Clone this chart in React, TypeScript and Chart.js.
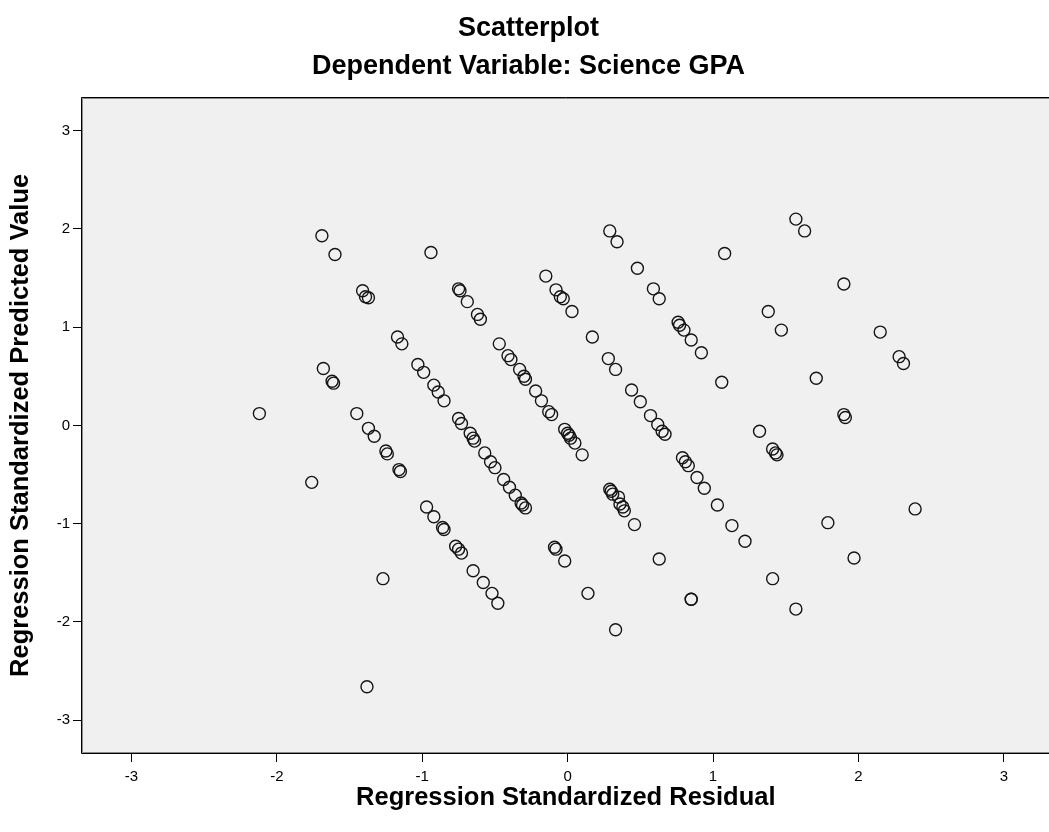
import React, { useEffect, useRef } from "react";
import { Chart, registerables } from "chart.js";

Chart.register(...registerables);

const TITLE = "Scatterplot";
const SUBTITLE = "Dependent Variable: Science GPA";
const X_LABEL = "Regression Standardized Residual";
const Y_LABEL = "Regression Standardized Predicted Value";
const X_TICKS = [-3, -2, -1, 0, 1, 2, 3];
const Y_TICKS = [-3, -2, -1, 0, 1, 2, 3];

// Regression standardized residuals (x)
const RESIDUALS = [
  -1.69, -1.6, -0.94, -1.41, -1.39, -1.37, -0.75, -0.74, -0.69, -0.62,
  -0.6, -1.17, -1.14, -1.03, -0.99, -0.92, -0.89, -0.85, -1.68, -1.62,
  -1.61, -2.12, -1.45, -1.37, -1.33, -1.25, -1.24, -1.16, -1.15, -1.76,
  -0.97, -0.92, -0.86, -0.85, -0.77, -0.75, -0.73, -0.65, -1.27, -0.58,
  -0.52, -0.48, -1.38, -0.75, -0.73, -0.67, -0.65, -0.64, -0.57, -0.53,
  -0.5, -0.44, -0.4, -0.36, -0.32, -0.31, -0.29, -0.47, -0.41, -0.39,
  -0.33, -0.3, -0.29, -0.22, -0.18, -0.13, -0.11, -0.02, 0.0, 0.01,
  0.02, 0.05, 0.1, -0.15, -0.08, -0.05, -0.03, 0.03, 0.17, 0.28,
  0.33, 0.44, 0.5, 0.57, 0.62, 0.65, 0.67, 0.79, 0.81, 0.83,
  0.89, 0.94, 1.03, 1.13, 1.22, 0.29, 0.3, 0.31, 0.35, 0.36,
  0.38, 0.39, 0.46, -0.09, -0.08, -0.02, 0.14, 0.33, 0.63, 0.85,
  0.85, 1.32, 1.41, 1.43, 1.44, 1.41, 1.57, 1.79, 1.97, 2.39,
  1.9, 1.91, 0.29, 0.34, 0.48, 0.59, 0.63, 0.76, 0.77, 0.8,
  0.85, 0.92, 1.08, 1.57, 1.63, 1.38, 1.47, 1.71, 1.06, 1.9,
  2.15, 2.28, 2.31,
];

// Regression standardized predicted values (y)
const PREDICTED = [
  1.93, 1.74, 1.76, 1.37, 1.31, 1.3, 1.39, 1.37, 1.26, 1.13,
  1.08, 0.9, 0.83, 0.62, 0.54, 0.41, 0.34, 0.25, 0.58, 0.45,
  0.43, 0.12, 0.12, -0.03, -0.11, -0.26, -0.29, -0.45, -0.47, -0.58,
  -0.83, -0.93, -1.04, -1.06, -1.23, -1.26, -1.3, -1.48, -1.56, -1.6,
  -1.71, -1.81, -2.66, 0.07, 0.02, -0.08, -0.13, -0.16, -0.28, -0.37,
  -0.43, -0.55, -0.63, -0.71, -0.79, -0.81, -0.84, 0.83, 0.71, 0.67,
  0.57, 0.5, 0.47, 0.35, 0.25, 0.14, 0.11, -0.04, -0.08, -0.1,
  -0.13, -0.18, -0.3, 1.52, 1.38, 1.31, 1.29, 1.16, 0.9, 0.68,
  0.57, 0.36, 0.24, 0.1, 0.01, -0.06, -0.09, -0.33, -0.37, -0.41,
  -0.53, -0.64, -0.81, -1.02, -1.18, -0.65, -0.67, -0.7, -0.73, -0.8,
  -0.83, -0.87, -1.01, -1.24, -1.26, -1.38, -1.71, -2.08, -1.36, -1.77,
  -1.77, -0.06, -0.24, -0.28, -0.3, -1.56, -1.87, -0.99, -1.35, -0.85,
  0.11, 0.08, 1.98, 1.87, 1.6, 1.39, 1.29, 1.05, 1.02, 0.97,
  0.87, 0.74, 1.75, 2.1, 1.98, 1.16, 0.97, 0.48, 0.44, 1.44,
  0.95, 0.7, 0.63,
];

const FONT = "'Liberation Sans', Arial, Helvetica, sans-serif";
const CANVAS_W = 1057;
const CANVAS_H = 832;

const framePlugin = {
  id: "spssFrame",
  beforeDatasetsDraw(chart: any) {
    const { ctx, chartArea: a } = chart;
    ctx.save();
    ctx.fillStyle = "#F0F0F0";
    ctx.fillRect(a.left, a.top, a.right - a.left, a.bottom - a.top);
    ctx.restore();
  },
  afterDraw(chart: any) {
    const { ctx, chartArea: a } = chart;
    ctx.save();
    ctx.lineWidth = 1;
    ctx.strokeStyle = "#000";
    ctx.beginPath();
    ctx.moveTo(a.right, Math.round(a.top) - 0.5);
    ctx.lineTo(Math.round(a.left) - 0.5, Math.round(a.top) - 0.5);
    ctx.lineTo(Math.round(a.left) - 0.5, Math.round(a.bottom) + 0.5);
    ctx.lineTo(a.right, Math.round(a.bottom) + 0.5);
    ctx.stroke();
    ctx.strokeStyle = "#8a8a8a";
    ctx.beginPath();
    ctx.moveTo(a.right, Math.round(a.top) + 0.5);
    ctx.lineTo(Math.round(a.left) + 0.5, Math.round(a.top) + 0.5);
    ctx.lineTo(Math.round(a.left) + 0.5, Math.round(a.bottom) - 0.5);
    ctx.lineTo(a.right, Math.round(a.bottom) - 0.5);
    ctx.stroke();
    ctx.restore();
  },
};

export default function App() {
  const ref = useRef<HTMLCanvasElement | null>(null);

  useEffect(() => {
    if (!ref.current) return;
    const points = RESIDUALS.map((x, i) => ({ x, y: PREDICTED[i] }));
    const chart = new Chart(ref.current, {
      type: "scatter",
      data: {
        datasets: [
          {
            data: points,
            pointStyle: "circle",
            pointRadius: 6,
            pointHoverRadius: 6,
            pointBorderWidth: 1.4,
            pointBorderColor: "#151515",
            pointBackgroundColor: "rgba(0,0,0,0)",
          },
        ],
      },
      options: {
        responsive: false,
        maintainAspectRatio: false,
        animation: false,
        layout: { padding: { left: 0, right: 0, top: 0, bottom: 0 } },
        plugins: {
          legend: { display: false },
          tooltip: { enabled: false },
          title: {
            display: true,
            text: TITLE,
            color: "#000",
            font: { family: FONT, size: 27, weight: "bold", lineHeight: 1.2 },
            padding: { top: 12, bottom: 6 },
          },
          subtitle: {
            display: true,
            text: SUBTITLE,
            color: "#000",
            font: { family: FONT, size: 27, weight: "bold", lineHeight: 1.2 },
            padding: { top: 0, bottom: 15 },
          },
        },
        scales: {
          x: {
            type: "linear",
            min: -3.34,
            max: 3.315,
            afterFit: (s: any) => {
              s.height = 79;
            },
            afterBuildTicks: (s: any) => {
              s.ticks = X_TICKS.map((v) => ({ value: v }));
            },
            ticks: {
              color: "#000",
              font: { family: FONT, size: 15 },
              padding: 6,
              maxRotation: 0,
              callback: (v: any) => String(v),
            },
            grid: {
              display: true,
              drawOnChartArea: false,
              drawTicks: true,
              tickLength: 9,
              color: "#000",
              lineWidth: 1,
            },
            border: { display: false },
            title: {
              display: true,
              text: X_LABEL,
              color: "#000",
              font: { family: FONT, size: 25.5, weight: "bold", lineHeight: 1.2 },
              padding: { top: 0, bottom: 19 },
            },
          },
          y: {
            type: "linear",
            min: -3.335,
            max: 3.335,
            afterFit: (s: any) => {
              s.width = 82;
            },
            afterBuildTicks: (s: any) => {
              s.ticks = Y_TICKS.map((v) => ({ value: v }));
            },
            ticks: {
              color: "#000",
              font: { family: FONT, size: 15 },
              padding: 3,
              callback: (v: any) => String(v),
            },
            grid: {
              display: true,
              drawOnChartArea: false,
              drawTicks: true,
              tickLength: 9,
              color: "#000",
              lineWidth: 1,
            },
            border: { display: false },
            title: {
              display: true,
              text: Y_LABEL,
              color: "#000",
              font: { family: FONT, size: 25.5, weight: "bold", lineHeight: 1.2 },
              padding: { top: 6, bottom: 0 },
            },
          },
        },
      },
      plugins: [framePlugin],
    });
    return () => chart.destroy();
  }, []);

  return (
    <div
      style={{
        position: "fixed",
        left: 0,
        top: 0,
        width: 1049,
        height: 832,
        overflow: "hidden",
        background: "#fff",
      }}
    >
      <canvas
        ref={ref}
        width={CANVAS_W}
        height={CANVAS_H}
        style={{ display: "block", width: CANVAS_W, height: CANVAS_H }}
      />
    </div>
  );
}
